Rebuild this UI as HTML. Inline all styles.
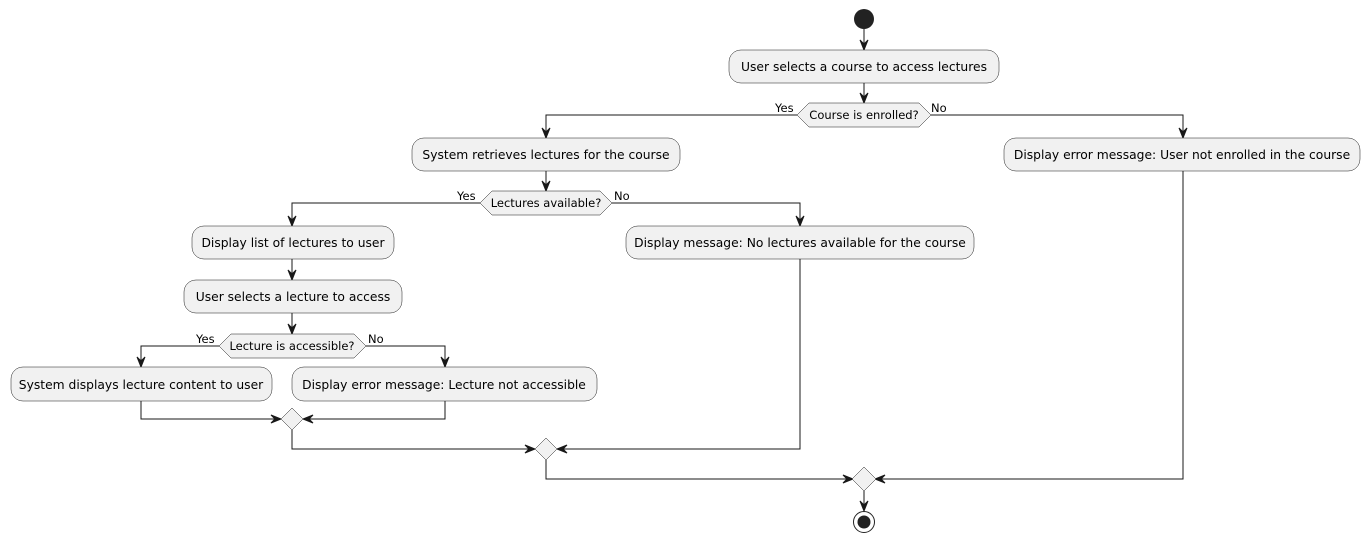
<!DOCTYPE html>
<html><head><meta charset="utf-8"><style>
html,body{margin:0;padding:0;background:#fff;}
svg{display:block;font-family:"DejaVu Sans","Liberation Sans",sans-serif;}
.b{fill:#F1F1F1;stroke:#181818;stroke-width:0.5;}
.l{fill:none;stroke:#181818;stroke-width:1;}
.a{fill:#181818;stroke:#181818;stroke-width:1;}
.t{font-size:12.3px;fill:#000;text-anchor:middle;}
.d{font-size:11.5px;fill:#000;text-anchor:middle;}
.s{font-size:11.5px;fill:#000;}
</style></head><body>
<svg width="1370" height="543" viewBox="0 0 1370 543" xmlns="http://www.w3.org/2000/svg">
<circle cx="864" cy="19" r="10" fill="#222"/>
<path class="l" d="M864 29V50M864 83V103"/>
<polygon class="a" points="860,40 864,50 868,40 864,44"/>
<polygon class="a" points="860,93 864,103 868,93 864,97"/>
<rect class="b" x="729" y="50" width="270" height="33" rx="12"/>
<text class="t" x="864" y="71">User selects a course to access lectures</text>

<path class="l" d="M797 115H546V138M931 115H1183V138"/>
<polygon class="a" points="542,128 546,138 550,128 546,132"/>
<polygon class="a" points="1179,128 1183,138 1187,128 1183,132"/>
<polygon class="b" points="797,115 809,103 919,103 931,115 919,127 809,127"/>
<text class="d" x="864" y="119">Course is enrolled?</text>
<text class="s" x="775" y="112">Yes</text>
<text class="s" x="931" y="112">No</text>

<rect class="b" x="412" y="138" width="268" height="33" rx="12"/>
<text class="t" x="546" y="159">System retrieves lectures for the course</text>
<rect class="b" x="1004" y="138" width="356" height="33" rx="12"/>
<text class="t" x="1182" y="159">Display error message: User not enrolled in the course</text>

<path class="l" d="M546 171V191"/>
<polygon class="a" points="542,181 546,191 550,181 546,185"/>
<path class="l" d="M480 203H292V226M612 203H800V226"/>
<polygon class="a" points="288,216 292,226 296,216 292,220"/>
<polygon class="a" points="796,216 800,226 804,216 800,220"/>
<polygon class="b" points="480,203 492,191 600,191 612,203 600,215 492,215"/>
<text class="d" x="546" y="207">Lectures available?</text>
<text class="s" x="457" y="200">Yes</text>
<text class="s" x="614" y="200">No</text>

<rect class="b" x="192" y="226" width="202" height="33" rx="12"/>
<text class="t" x="293" y="247">Display list of lectures to user</text>
<rect class="b" x="626" y="226" width="348" height="33" rx="12"/>
<text class="t" x="800" y="247">Display message: No lectures available for the course</text>

<path class="l" d="M292 259V280"/>
<polygon class="a" points="288,270 292,280 296,270 292,274"/>
<rect class="b" x="184" y="280" width="218" height="33" rx="12"/>
<text class="t" x="293" y="301">User selects a lecture to access</text>
<path class="l" d="M292 313V334"/>
<polygon class="a" points="288,324 292,334 296,324 292,328"/>

<path class="l" d="M219 346H141V367M366 346H445V367"/>
<polygon class="a" points="137,357 141,367 145,357 141,361"/>
<polygon class="a" points="441,357 445,367 449,357 445,361"/>
<polygon class="b" points="219,346 231,334 354,334 366,346 354,358 231,358"/>
<text class="d" x="292" y="350">Lecture is accessible?</text>
<text class="s" x="196" y="343">Yes</text>
<text class="s" x="368" y="343">No</text>

<rect class="b" x="11" y="367" width="261" height="34" rx="12"/>
<text class="t" x="141" y="389">System displays lecture content to user</text>
<rect class="b" x="292" y="367" width="305" height="34" rx="12"/>
<text class="t" x="444" y="389">Display error message: Lecture not accessible</text>

<path class="l" d="M141 401V419H281M445 401V419H303"/>
<polygon class="a" points="271,415 281,419 271,423 275,419"/>
<polygon class="a" points="313,415 303,419 313,423 309,419"/>
<polygon class="b" points="292,408 303,419 292,430 281,419"/>

<path class="l" d="M292 430V449H535M800 259V449H557"/>
<polygon class="a" points="525,445 535,449 525,453 529,449"/>
<polygon class="a" points="567,445 557,449 567,453 563,449"/>
<polygon class="b" points="546,438 557,449 546,460 535,449"/>

<path class="l" d="M546 460V479H853M1183 171V479H875"/>
<polygon class="a" points="843,475 853,479 843,483 847,479"/>
<polygon class="a" points="885,475 875,479 885,483 881,479"/>
<polygon class="b" points="864,467 876,479 864,491 852,479"/>

<path class="l" d="M864 491V511"/>
<polygon class="a" points="860,501 864,511 868,501 864,505"/>
<circle cx="864" cy="522" r="10.5" fill="none" stroke="#222" stroke-width="1"/>
<circle cx="864" cy="522" r="6.5" fill="#222"/>
</svg>
</body></html>
